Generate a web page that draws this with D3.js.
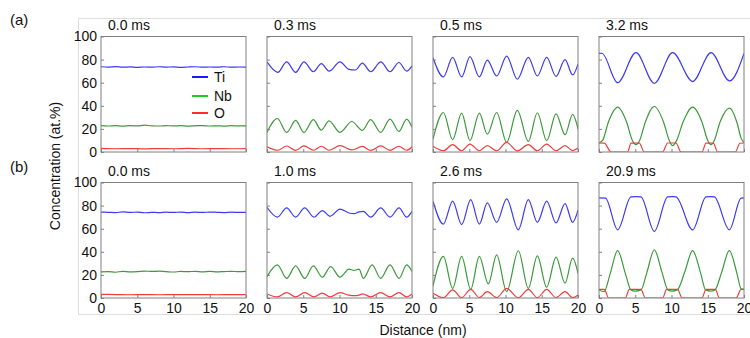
<!DOCTYPE html>
<html>
<head>
<meta charset="utf-8">
<script src="https://cdn.jsdelivr.net/npm/d3@7"></script>
<style>
  body { margin: 0; background: #fff; }
  text { font-family: "Liberation Sans", Arial, sans-serif; fill: #111; }
</style>
</head>
<body>
<svg id="chart" width="750" height="338"></svg>
<script>
// panel titles
const timesA = ['0.0 ms', '0.3 ms', '0.5 ms', '3.2 ms'];
const timesB = ['0.0 ms', '1.0 ms', '2.6 ms', '20.9 ms'];
const yTicks = [0, 20, 40, 60, 80, 100];
const xTicks = [0, 5, 10, 15, 20];
const species = ['Ti', 'Nb', 'O'];

// profiles: [distance (nm), concentration (at.%)]
const ti_a1 = [[0,73.8],[1,73.5],[2,73.9],[3,73.4],[4,73.7],[5,73.3],[6,73.6],[7,73.4],[8,73.8],[9,73.5],[10,73.7],[11,73.3],[12,73.6],[13,73.8],[14,73.4],[15,73.6],[16,73.5],[17,73.8],[18,73.4],[19,73.6],[20,73.5]];
const nb_a1 = [[0,22.8],[1,22.5],[2,22.9],[3,22.4],[4,22.8],[5,22.6],[6,23.2],[7,22.7],[8,22.5],[9,22.9],[10,22.6],[11,22.8],[12,22.4],[13,22.7],[14,22.9],[15,22.5],[16,22.7],[17,22.4],[18,22.8],[19,22.6],[20,22.7]];
const o_a1 = [[0,3.1],[2,2.8],[4,3.0],[6,2.7],[8,3.0],[10,2.8],[12,3.1],[14,2.8],[16,3.0],[18,2.8],[20,3.0]];

const ti_a2 = [[0,78],[1.5,69],[2.7,78],[3.95,69],[5.1,78],[6.4,69.5],[7.5,76.5],[8.55,70],[10.07,78],[11.3,71.5],[12.2,71],[13.15,77],[14.3,69.5],[15.7,78],[16.97,69.5],[18.2,77.5],[19.26,70],[20,74.5]];
const nb_a2 = [[0,17],[1.43,29],[2.71,17],[3.95,27.3],[5.1,17],[6.39,28],[7.49,19],[8.55,27],[10.07,17],[11.7,26.4],[13.15,18.7],[14.3,28],[15.68,17],[16.97,28.5],[18.21,17.8],[19.26,28.5],[20,21.5]];
const o_a2 = [[0,4.5],[1.5,1.5],[2.7,5.2],[3.95,1.4],[5.1,5.3],[6.4,1.5],[7.5,5],[8.55,1.5],[10.07,5.5],[11.7,1.8],[13.15,4.8],[14.3,1.4],[15.7,5.3],[16.97,1.4],[18.2,5],[19.26,1.5],[20,4.5]];

const ti_a3 = [[0,81.6],[1.43,65],[2.71,82],[3.95,65],[5.1,82.5],[6.39,65],[7.49,79.6],[8.78,65.8],[10.16,83],[11.63,63],[13.15,82],[14.39,65.8],[15.68,82],[16.97,65.5],[18.21,80],[19.26,66.7],[20,76]];
const nb_a3 = [[0,11.2],[1.43,34.2],[2.71,10.6],[3.95,33.6],[5.1,9.8],[6.39,33.6],[7.49,15.5],[8.78,34.2],[10.16,8.3],[11.63,36],[13.15,9.2],[14.39,34],[15.68,9.8],[16.97,33],[18.21,15],[19.26,32.5],[20,20]];
const o_a3 = [[0,4.9],[1.43,1.1],[2.71,6.3],[3.95,1.1],[5.1,6.9],[6.39,1.1],[7.49,5.5],[8.78,1.1],[10.16,8.3],[11.63,1],[13.15,6.3],[14.39,1.1],[15.68,6.9],[16.97,1.1],[18.21,5.5],[19.26,1.2],[20,3.4]];

const ti_a4 = [[0,85.3],[0.4,85.5],[2.57,60],[5.1,86],[7.63,59.5],[10.16,86],[12.92,61],[15.45,86],[18.0,61.5],[20,85.3]];
const nb_a4 = [[0,7.8],[0.5,10],[1.3,26],[2.57,38.8],[3.8,26],[4.6,10],[5.1,6.3],[5.6,10],[6.4,26],[7.63,39.4],[8.9,26],[9.7,10],[10.16,5.5],[10.7,10],[11.6,26],[12.92,38.8],[14.2,26],[15.0,10],[15.45,6.3],[15.9,10],[16.7,26],[18.0,38],[19.1,24],[19.6,12],[20,8.3]];
const o_a4 = [[0,7.8],[0.74,7.6],[1.66,0],[3.95,0],[4.41,7.6],[5.56,7.6],[6.25,0],[8.78,0],[9.47,7.8],[10.62,7.8],[11.31,0],[14.2,0],[14.76,7.6],[15.77,7.6],[16.37,0],[18.8,0],[19.45,7.6],[20,7.8]];

const ti_b1 = [[0,74.4],[1,74.2],[2,74.0],[3,74.5],[4,74.1],[5,74.4],[6,73.8],[7,74.2],[8,73.9],[9,74.3],[10,74.1],[11,74.4],[12,74.0],[13,74.3],[14,74.1],[15,74.4],[16,74.2],[17,74.0],[18,74.3],[19,74.1],[20,74.2]];
const nb_b1 = [[0,22.6],[1,22.9],[2,22.3],[3,23.1],[4,22.6],[5,22.8],[6,23.3],[7,23.0],[8,23.2],[9,22.8],[10,22.5],[11,23.0],[12,22.8],[13,23.1],[14,22.7],[15,23.0],[16,22.6],[17,22.9],[18,23.1],[19,22.8],[20,23.0]];
const o_b1 = [[0,3.2],[2,3.0],[4,2.8],[6,3.0],[8,2.8],[10,3.0],[12,2.9],[14,3.0],[16,2.8],[18,3.0],[20,2.9]];

const ti_b2 = [[0,78.5],[1.43,70],[2.71,78],[3.95,70],[5.2,78],[6.48,70],[7.63,75.7],[8.69,70.7],[10.07,77],[11.31,73.6],[12.0,73],[12.69,74.5],[13.3,75],[14.3,70],[15.68,78],[16.97,70],[18.21,78],[19.26,70],[20,75]];
const nb_b2 = [[0,18.5],[1.43,28.7],[2.71,17],[3.95,27.8],[5.2,17],[6.39,27.8],[7.63,18],[8.78,27.2],[10.07,18],[11.31,25],[12.0,23.8],[12.69,25],[13.3,17],[14.5,28.7],[15.68,17],[16.97,28.7],[18.21,17],[19.26,28.7],[20,23]];
const o_b2 = [[0,3.5],[1.43,1],[2.71,4.6],[3.95,1],[5.2,4.6],[6.48,1],[7.63,4.2],[8.69,1],[10.07,4.6],[11.3,2.5],[12,2],[12.69,2.5],[13.2,3.5],[14.3,1],[15.68,4.6],[16.97,1],[18.21,4.6],[19.26,1],[20,3.5]];

const ti_b3 = [[0,83.8],[1.43,64],[2.71,83.8],[3.95,63.5],[5.2,85.2],[6.39,64],[7.49,82.3],[8.78,65.5],[10.16,85.8],[11.77,59],[13.15,85.2],[14.39,65.5],[15.68,83.8],[16.97,65],[18.21,81.7],[19.26,65.5],[20,76]];
const nb_b3 = [[0,10.4],[1.43,36],[2.71,8.4],[3.95,36],[5.2,7.5],[6.39,36],[7.63,12.2],[8.78,37.4],[10.16,5.5],[11.77,40.9],[13.15,8.4],[14.39,36.5],[15.68,9.3],[16.97,35.4],[18.21,12.8],[19.26,34.5],[20,21.4]];
const o_b3 = [[0,4],[1.43,0.3],[2.71,7],[3.95,0.3],[5.2,7.5],[6.39,0.3],[7.49,5.5],[8.78,0.3],[10.16,8.4],[11.77,0.2],[13.15,7.5],[14.39,0.3],[15.68,7.5],[16.97,0.3],[18.21,5.5],[19.26,0.3],[20,2.6]];

const ti_b4 = [[0,86.7],[0.9,86.5],[2.57,59],[4.41,87.5],[5.1,87.7],[5.79,87.5],[7.63,57.7],[9.47,87.5],[10.16,87.7],[10.62,87.5],[12.92,59],[14.76,87.5],[15.45,87.7],[15.91,87.5],[17.98,59],[19.6,86.5],[20,86.7]];
const nb_b4 = [[0,7],[0.7,5.5],[1.5,20],[2.57,41],[3.6,22],[4.4,7],[5.0,6],[5.8,7],[6.6,22],[7.63,41.7],[8.7,22],[9.5,7],[10.1,6],[10.8,7],[11.8,22],[12.92,41],[14.0,22],[14.7,7],[15.4,6],[16.0,7],[16.9,22],[17.98,41],[19.0,22],[19.6,8],[20,7.5]];
const o_b4 = [[0,7.5],[0.74,7.5],[1.33,0],[3.63,0],[4.18,7.5],[5.79,7.5],[6.39,0],[8.78,0],[9.33,7.5],[10.85,7.5],[11.45,0],[14.2,0],[14.76,7.5],[16.05,7.5],[16.6,0],[18.9,0],[19.6,7.5],[20,7.5]];

const rowA = [[ti_a1, nb_a1, o_a1], [ti_a2, nb_a2, o_a2], [ti_a3, nb_a3, o_a3], [ti_a4, nb_a4, o_a4]];
const rowB = [[ti_b1, nb_b1, o_b1], [ti_b2, nb_b2, o_b2], [ti_b3, nb_b3, o_b3], [ti_b4, nb_b4, o_b4]];

const lineColors = ['#3b3bf5', '#3c9a3c', '#f23c3c'];
const legendColors = ['#1a1aff', '#22cc22', '#ff2a2a'];

const svg = d3.select('#chart');
const panelW = 145;
const panelH = 115.5;
const lefts = [101, 267, 433, 599];
const tops = [36.5, 182.5];

// faint outer frame
svg.append('rect')
  .attr('x', 78.5).attr('y', 18.5)
  .attr('width', 690).attr('height', 296)
  .attr('fill', 'none').attr('stroke', '#dedede');

svg.append('text').attr('x', 10).attr('y', 25).style('font-size', '15px').text('(a)');
svg.append('text').attr('x', 10).attr('y', 172).style('font-size', '15px').text('(b)');

const x = d3.scaleLinear().domain([0, 20]).range([0, panelW]);
const y = d3.scaleLinear().domain([0, 100]).range([panelH, 0]);
const line = d3.line().x(d => x(d[0])).y(d => y(d[1])).curve(d3.curveMonotoneX);

svg.append('defs').append('clipPath').attr('id', 'clip')
  .append('rect').attr('width', panelW).attr('height', panelH);

[rowA, rowB].forEach((row, r) => {
  const titles = r === 0 ? timesA : timesB;
  row.forEach((series, c) => {
    const g = svg.append('g').attr('transform', `translate(${lefts[c]},${tops[r]})`);

    g.append('text')
      .attr('x', 7).attr('y', -7)
      .style('font-size', '14px')
      .text(titles[c]);

    const plot = g.append('g').attr('clip-path', 'url(#clip)');
    series.forEach((pts, k) => {
      plot.append('path')
        .datum(pts)
        .attr('d', line)
        .attr('fill', 'none')
        .attr('stroke', lineColors[k])
        .attr('stroke-width', 1.2);
    });

    const yAxis = d3.axisLeft(y).tickValues(yTicks).tickSize(-3).tickPadding(4);
    if (c > 0) yAxis.tickFormat('');
    const xAxis = d3.axisBottom(x).tickValues(xTicks).tickSize(-3).tickPadding(5);
    if (r === 0) xAxis.tickFormat('');

    const ya = g.append('g').call(yAxis);
    const xa = g.append('g').attr('transform', `translate(0,${panelH})`).call(xAxis);
    [ya, xa].forEach(a => {
      a.select('.domain').remove();
      a.selectAll('line').attr('stroke', '#808080');
      a.selectAll('text').style('font-size', '14px').attr('fill', '#111');
    });

    g.append('rect')
      .attr('width', panelW).attr('height', panelH)
      .attr('fill', 'none').attr('stroke', '#808080').attr('stroke-width', 1);
  });
});

// legend inside the first panel
const legend = svg.append('g').attr('transform', 'translate(192,77)');
species.forEach((s, i) => {
  const gy = [0, 19, 36][i];
  legend.append('line')
    .attr('x1', 0).attr('x2', 16).attr('y1', gy).attr('y2', gy)
    .attr('stroke', legendColors[i]).attr('stroke-width', 2);
  legend.append('text')
    .attr('x', 22).attr('y', gy + 5)
    .style('font-size', '14px')
    .text(s);
});

svg.append('text')
  .attr('transform', 'translate(60,166) rotate(-90)')
  .attr('text-anchor', 'middle')
  .style('font-size', '14px')
  .text('Concentration (at.%)');

svg.append('text')
  .attr('x', 423).attr('y', 335)
  .attr('text-anchor', 'middle')
  .style('font-size', '14px')
  .text('Distance (nm)');
</script>
</body>
</html>
